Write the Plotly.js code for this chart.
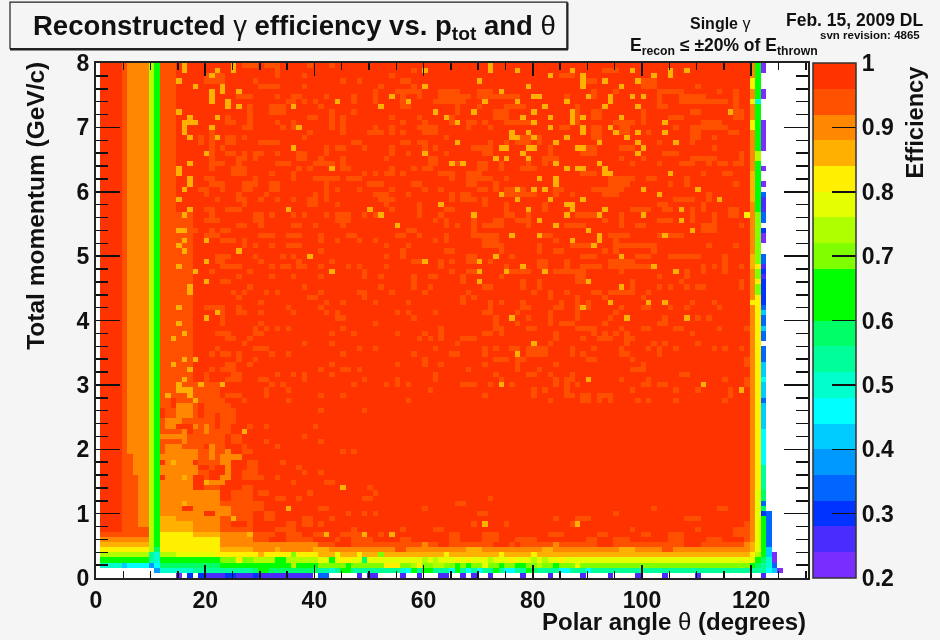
<!DOCTYPE html>
<html><head><meta charset="utf-8">
<script src="https://cdn.plot.ly/plotly-3.0.1.min.js"></script>
<style>html,body{margin:0;padding:0;background:#f5f5f5}#chart{width:940px;height:640px;filter:blur(0.6px)}</style>
</head><body><div id="chart"></div>
<script>
// ---- bin layout of the histogram (1 degree x 0.08 GeV/c) ----
const thetaBins = 130, momentumBins = 100;
const thetaFirstCentre = 0.2, thetaStep = 1, momentumFirstCentre = 0.04, momentumStep = 0.08;

// ---- efficiency, by bands of bins ----
const colStarts = [1,5,6,10,11,12,15,18,23,29,41,61,119,120,121,122,123,124,125,126];
const rowStarts = [0,1,2,3,4,5,6,7,8,9,11,13,17,22,29,38,51,71,100];
const N = null;
const baseLevels = [
 [N,N,N,N,N,N,N,N,N,N,N,N,N,N,N,N,N,N,N],
 [N,N,N,N,.38,.48,.50,.54,.54,.56,.55,.55,.55,.54,.52,.52,.47,.42,.24],
 [.48,.42,.46,.38,.46,.58,.60,.58,.64,.66,.68,.68,.68,.66,.60,.54,.50,.36,N],
 [.62,.64,.64,.54,.50,.66,.66,.66,.70,.74,.78,.78,.78,.76,.66,.60,.50,.24,N],
 [.72,.72,.72,.54,.50,.72,.76,.76,.80,.83,.85,.85,.85,.80,.74,.62,.42,.24,N],
 [.82,.82,.82,.72,.58,.80,.82,.80,.86,.89,.90,.90,.90,.86,.76,.66,.42,N,N],
 [.86,.86,.86,.74,.66,.82,.83,.84,.90,.92,.94,.94,.92,.88,.78,.66,.32,N,N],
 [.90,.90,.90,.74,.66,.82,.84,.84,.91,.98,.98,.98,.93,.89,.78,.66,.32,N,N],
 [.94,.94,.94,.74,.66,.83,.84,.86,.91,.98,.98,.98,.94,.89,.78,.66,.32,N,N],
 [.98,.94,.94,.74,.66,.85,.87,.89,.94,.98,.98,.98,.94,.90,.78,.66,.32,N,N],
 [.98,.94,.94,.74,.66,.87,.89,.90,.94,.98,.98,.98,.98,.90,.78,.66,.32,N,N],
 [.98,.94,.94,.74,.66,.90,.91,.92,.94,.98,.98,.98,.98,.90,.78,.60,N,N,N],
 [.98,.94,.94,.74,.66,.90,.91,.94,.98,.98,.98,.98,.98,.90,.80,.54,N,N,N],
 [.98,.94,.94,.74,.66,.94,.94,.94,.98,.98,.98,.98,.98,.90,.82,.46,N,N,N],
 [.98,.94,.90,.74,.66,.94,.94,.94,.98,.98,.98,.98,.98,.90,.82,.42,N,N,N],
 [.98,.94,.90,.74,.66,.94,.94,.98,.98,.98,.98,.98,.98,.90,.80,.32,N,N,N],
 [.98,.94,.90,.74,.66,.94,.94,.98,.98,.98,.98,.98,.98,.90,.68,N,N,N,N],
 [.98,.94,.90,.74,.66,.94,.96,.98,.98,.98,.98,.98,.98,.90,.66,N,N,N,N]
];

// cells of the second band (0.92-0.96) in the red field: [thetaBin0, thetaBin1, rowBin0, rowBin1]
const midBlocks = [
[27,29,99,99],[31,32,99,99],[33,33,97,99],[39,39,99,99],[43,43,99,99],[20,23,96,97],[29,29,96,96],[30,33,95,95],[38,38,95,95],[38,38,97,97],[45,45,96,96],
[26,28,93,93],[33,33,93,93],[36,37,93,93],[42,42,93,93],[47,47,92,93],[35,36,92,92],[38,38,92,92],[40,40,92,92],[28,28,88,91],[32,34,90,91],[41,41,91,91],
[39,40,89,89],[43,43,88,90],[45,45,88,89],[47,47,90,90],[24,25,88,88],[24,24,89,89],[33,33,88,88],[36,36,87,88],[43,43,87,87],[45,45,86,87],[34,34,87,87],
[27,28,87,87],[39,39,86,86],[30,32,84,84],[33,33,84,84],[38,38,85,85],[47,48,84,84],[42,42,82,83],[44,45,83,83],[21,21,79,87],[19,19,84,85],[23,23,83,83],
[24,25,84,85],[27,27,85,85],[24,25,82,82],[27,27,81,82],[29,30,82,82],[29,29,81,81],[33,33,82,82],[37,38,81,82],[33,35,80,80],[40,43,80,80],[41,41,81,81],
[45,45,80,81],[45,46,79,79],[25,27,78,79],[26,26,80,81],[22,23,80,80],[27,27,79,79],[32,32,78,78],[36,36,77,78],[37,37,79,79],[39,39,79,79],[40,43,77,77],
[42,42,74,76],[44,44,75,75],[46,48,77,77],[44,44,77,77],[48,48,75,75],[20,21,77,77],[19,20,75,75],[21,23,76,76],[23,23,75,75],[27,29,76,76],[27,28,75,75],
[29,29,77,77],[32,33,75,76],[31,31,74,74],[26,26,73,74],[20,20,74,74],[22,22,73,73],[27,27,72,73],[30,30,73,73],[33,33,73,73],[36,36,73,73],[39,40,72,73],
[42,42,73,73],[44,44,72,72],[40,40,74,74],[20,21,71,71],[24,26,71,71],[21,21,70,70],[29,30,69,70],[32,32,70,70],[38,38,70,70],[42,42,70,70],[44,46,69,70],
[20,22,69,69],[36,36,70,70],[26,27,68,68],[36,37,68,68],[30,30,68,68],[40,40,68,68],[45,45,68,68],[23,24,67,67],[18,18,67,67],[21,21,67,67],
[54,54,97,97],[56,57,96,96],[52,52,95,95],[58,58,95,95],[58,58,98,98],[48,48,96,96],[55,59,94,94],[56,56,92,93],[51,51,92,94],[59,59,93,93],[63,66,93,94],
[62,67,92,92],[67,68,93,93],[70,72,93,94],[73,77,93,93],[75,78,91,91],[70,70,91,91],[66,66,90,91],[56,57,91,91],[54,54,89,89],[56,56,88,88],[59,59,89,89],
[60,60,88,88],[59,62,87,87],[60,62,86,86],[73,75,89,90],[75,79,88,88],[71,71,88,88],[68,69,88,88],[72,72,87,87],[65,65,88,89],[68,68,87,87],[50,52,86,86],
[51,51,87,87],[54,54,86,87],[56,56,86,86],[56,57,84,84],[59,59,84,84],[60,60,82,84],[62,62,83,83],[64,64,85,85],[64,64,82,82],[69,71,83,83],[71,71,82,82],
[72,72,82,84],[77,79,84,85],[75,75,84,84],[81,81,84,85],[83,83,82,83],[54,54,82,83],[49,49,83,83],[57,57,82,82],[53,53,81,81],[58,58,79,79],[61,62,80,81],
[60,61,79,79],[54,54,78,79],[56,56,78,78],[51,51,78,78],[53,53,78,78],[49,49,78,78],[63,65,78,78],[65,65,77,77],[68,70,77,78],[66,67,80,80],[70,71,79,80],
[74,74,79,80],[78,80,79,79],[79,79,80,80],[82,84,81,81],[82,82,80,80],[71,72,77,77],[75,75,77,77],[68,69,76,76],[70,71,75,75],[73,73,75,76],[75,78,74,75],
[79,80,74,74],[84,84,74,75],[50,52,76,76],[58,59,76,76],[54,54,75,75],[60,60,75,75],[63,63,75,75],[51,53,74,74],[52,54,73,73],[57,57,74,74],[53,53,72,72],
[59,59,70,72],[65,65,73,74],[67,68,73,74],[64,65,71,71],[71,71,72,73],[75,75,71,72],[69,69,73,73],[63,63,70,70],[49,49,70,70],[51,51,70,70],[54,54,71,71],
[77,79,69,69],[79,79,68,70],[82,82,71,72],[73,74,68,69],[69,69,67,69],[71,74,68,68],[64,64,68,69],[62,62,69,69],[66,66,68,68],[57,58,67,67],[75,76,70,70],
[93,95,98,98],[85,87,97,97],[89,91,96,96],[86,86,93,93],[91,91,93,94],[95,95,94,94],[100,102,95,96],[103,107,94,94],[107,111,92,93],[114,114,94,94],[117,117,91,94],
[112,115,92,92],[110,110,95,95],[103,103,92,93],[103,104,91,91],[88,88,88,91],[91,92,89,90],[95,95,88,88],[96,98,88,88],[100,100,88,90],[105,107,89,89],[109,110,90,90],
[111,114,87,88],[115,115,87,87],[117,118,89,90],[85,86,87,87],[91,92,85,87],[96,97,86,87],[101,101,86,86],[106,106,87,87],[109,110,85,87],[116,117,86,86],[113,113,85,85],
[89,91,82,83],[96,97,83,83],[98,98,83,83],[103,103,84,84],[109,109,84,84],[113,113,83,83],[109,113,81,81],[118,118,81,82],[114,115,80,80],[104,106,82,82],[100,100,81,81],
[96,96,81,81],[98,98,80,80],[103,103,80,80],[107,109,80,80],[112,112,80,80],[117,118,80,80],[89,91,78,78],[94,97,76,77],[98,98,77,77],[101,102,77,77],[111,111,78,78],
[108,108,76,77],[105,105,76,76],[115,116,78,78],[85,85,75,75],[117,117,76,76],[91,96,75,75],[93,95,74,74],[87,87,74,74],[106,109,73,73],[112,112,73,74],[103,104,72,72],
[98,101,71,71],[104,105,71,71],[111,111,71,72],[116,117,70,71],[109,109,69,71],[113,113,69,70],[88,91,70,70],[96,96,68,70],[103,105,69,69],[86,89,68,68],[93,93,69,69],
[99,100,68,68],[111,113,67,68],[118,118,68,68],
[20,22,66,66],[30,32,66,66],[35,37,66,66],[41,41,65,66],[46,47,66,66],[55,56,66,66],[59,59,66,66],[64,64,65,66],[23,25,65,65],[27,27,64,65],[44,44,65,65],[48,48,65,65],
[51,51,65,65],[62,62,65,65],[29,29,64,64],[32,32,64,64],[35,35,64,64],[36,37,64,64],[53,53,64,64],[57,57,64,64],[64,65,63,63],[41,41,63,63],[22,23,61,62],[24,24,62,62],
[29,29,62,62],[34,34,62,62],[36,36,62,62],[53,53,62,62],[56,56,62,63],[30,30,61,61],[43,43,61,61],[58,59,61,61],[63,63,60,61],[65,65,61,61],[37,37,60,61],[23,25,60,60],
[26,26,60,60],[32,32,60,60],[34,34,60,60],[35,35,60,60],[38,38,60,60],[41,41,60,60],[46,46,60,60],[48,48,60,60],[53,53,60,60],[21,21,59,59],[28,28,59,59],[49,49,58,59],
[65,65,59,59],[26,26,58,58],[32,32,58,58],[36,36,58,58],[41,41,58,58],[52,52,58,58],[61,62,58,58],[23,24,57,57],[58,58,56,58],[28,28,56,56],[38,38,56,56],[52,52,56,56],
[61,61,56,56],[25,25,55,55],[27,27,55,55],[31,31,55,55],[33,33,55,55],[41,41,55,55],[48,49,55,55],[54,54,55,55],[60,60,55,55],[26,26,54,54],[39,40,54,54],[49,49,54,54],
[30,30,53,53],[42,42,53,53],[45,45,53,53],[51,51,53,53],[57,57,53,53],[26,26,52,52],[35,35,52,52],[41,41,52,52],[22,23,51,52],[20,21,52,52],[26,27,51,51],[30,30,51,51],
[36,36,51,51],[42,42,51,51],[44,44,50,51],[55,55,51,51],[57,57,51,51],[62,62,51,51],[45,45,50,50],[58,58,50,50],[23,23,49,50],[30,30,49,49],[51,51,49,49],[29,29,48,48],
[31,31,48,48],[33,33,48,48],[35,35,48,48],[45,45,48,48],[63,63,46,48],[22,24,47,47],[29,30,47,47],[43,43,47,47],[47,47,47,47],[55,55,47,47],[60,60,47,47],[24,25,46,46],
[59,59,46,46],[61,61,46,46],[28,28,46,46],[27,27,45,45],[38,38,45,45],[43,43,45,45],[66,66,45,45],[29,31,44,44],[48,48,44,44],[51,51,44,44],[62,62,44,44],[22,22,44,44],
[21,21,43,43],[23,24,43,43],[26,26,42,43],[32,32,43,43],[35,35,43,43],[45,45,43,43],[58,58,43,43],[65,66,43,43],[29,29,42,42],[60,60,41,42],[28,28,41,41],[24,25,41,41],
[43,43,41,41],[55,55,41,41],[63,63,41,41],[23,25,40,40],[21,21,40,40],[41,41,40,40],[45,46,40,40],[48,48,40,40],[25,26,39,39],[33,33,39,39],[36,36,39,39],[38,38,38,39],
[43,43,39,39],[62,62,38,39],[20,20,37,39],[24,26,38,38],[30,31,38,38],[49,49,38,38],[55,55,37,38],[32,32,37,37],[34,34,37,37],[47,47,37,37],[53,53,37,37],[57,57,37,37],
[20,22,36,36],[35,35,36,36],[31,31,35,36],[61,61,36,36],[24,25,35,35],[26,26,35,35],[41,41,35,35],[45,45,35,35],[21,23,34,34],[27,27,34,34],[35,35,34,34],[57,57,34,34],
[69,73,66,66],[71,73,64,65],[82,83,66,66],[94,97,66,66],[103,107,66,66],[84,84,65,65],[74,74,63,64],[81,81,63,64],[84,85,63,63],[87,91,64,64],[95,102,64,64],[95,95,63,65],
[99,101,62,62],[102,102,63,63],[105,107,62,62],[108,110,62,62],[89,91,62,62],[93,93,63,63],[112,112,64,64],[117,117,64,64],[68,69,61,62],[76,76,62,62],[81,82,60,61],[72,72,61,61],
[86,86,60,61],[94,98,60,61],[89,92,60,60],[99,101,60,60],[111,111,59,60],[115,115,59,62],[118,118,60,60],[113,113,60,60],[75,75,60,60],[76,78,59,59],[79,79,59,59],[84,89,59,59],
[68,68,59,59],[69,69,59,59],[96,96,59,59],[108,108,58,59],[74,74,58,58],[88,89,57,58],[67,67,57,58],[103,103,58,58],[81,81,56,57],[78,78,56,57],[71,72,56,56],[98,98,56,57],
[107,107,57,57],[118,118,56,57],[103,103,56,56],[105,105,56,56],[110,111,56,56],[108,108,56,56],[68,68,55,55],[80,80,55,55],[83,83,54,55],[86,86,55,55],[91,92,55,55],[94,98,55,55],
[101,101,55,55],[93,93,54,54],[88,88,50,54],[100,100,54,54],[67,67,53,54],[69,69,54,54],[72,72,51,53],[74,74,53,53],[78,78,52,53],[85,85,53,53],[90,90,52,53],[109,109,53,53],
[113,113,53,53],[79,79,52,52],[84,85,52,52],[96,96,52,52],[100,101,52,52],[105,105,52,52],[108,108,52,52],[114,114,52,52],[71,72,51,51],[77,77,51,51],[83,83,49,51],[95,95,51,51],
[73,73,49,50],[79,79,50,50],[94,94,50,50],[77,77,49,49],[85,87,49,49],[104,104,49,50],[112,112,50,50],[110,110,50,50],[103,103,49,49],[93,93,49,49],[73,74,48,48],[79,80,48,48],
[88,91,48,48],[96,96,48,48],[100,101,48,48],[106,107,48,48],[114,114,48,48],[119,119,48,48],[74,74,47,47],[71,72,47,47],[84,84,46,47],[91,91,47,47],[93,93,46,47],[95,95,47,47],
[97,97,45,47],[109,109,47,47],[67,68,46,46],[69,69,46,46],[92,94,46,46],[89,89,46,46],[98,98,46,46],[83,83,45,45],[102,102,45,45],[104,104,45,45],[110,110,45,45],[71,71,43,44],
[73,73,44,44],[76,77,44,44],[79,82,43,44],[87,87,43,44],[91,91,44,44],[96,96,43,44],[101,101,44,44],[103,103,43,44],[106,106,44,44],[113,113,44,44],[115,115,44,44],[118,118,44,44],
[97,97,43,43],[89,89,43,43],[73,75,42,42],[77,78,42,42],[90,91,42,42],[98,98,42,42],[119,119,41,42],[71,71,41,41],[77,77,40,41],[84,84,41,41],[68,68,40,40],[81,81,40,40],
[98,100,40,40],[100,100,41,41],[79,80,39,39],[73,73,39,39],[83,83,39,39],[87,87,39,39],[107,108,39,39],[74,74,38,38],[84,84,37,38],[86,87,38,38],[96,96,38,38],[101,101,37,38],
[115,115,38,38],[119,119,37,38],[67,69,37,37],[72,72,37,37],[76,76,37,37],[88,88,37,37],[86,86,36,37],[100,101,37,37],[103,104,37,37],[80,80,35,36],[82,82,36,36],[86,87,35,35],
[89,90,34,35],[92,94,35,35],[98,98,36,36],[106,106,36,36],[110,110,36,36],[116,116,35,36],[71,71,35,35],[83,83,34,34],[92,92,34,34],[94,94,34,34],[99,99,34,34],[101,101,34,34],[106,106,34,34],[115,115,34,34],
[41,41,32,32],[49,49,32,32],[28,28,29,29],[31,31,29,29],[40,40,29,29],[31,31,26,26],[33,33,25,25],[41,41,26,26],[38,38,27,27],[45,45,24,24],[47,47,24,24],[34,34,22,22],[37,37,21,21],
[30,30,19,19],[33,33,19,19],[38,38,20,20],[41,41,20,20],[43,43,18,18],[42,42,18,18],[36,36,18,18],[50,50,17,17],[51,51,16,16],[49,50,15,15],[33,34,15,15],[30,31,16,16],[37,37,15,15],
[41,42,13,13],[39,39,16,16],[51,51,12,12],[43,43,11,11],[46,46,12,12],[49,49,12,12],[60,60,13,13],[66,67,14,14],[72,72,15,15],[70,71,12,12],[84,84,11,11],[88,90,11,11],[95,95,12,12],[102,102,13,13],[108,110,11,11],[114,115,13,13],
[23,23,24,33],[24,24,28,33],[25,25,30,32],[27,27,24,25],[28,28,24,24],[26,27,19,20],[23,25,12,16],[25,26,26,27],[28,29,19,22],[27,28,14,17],[26,26,12,13],[29,30,13,14],[31,32,11,12],[35,36,9,10],[38,39,10,11],
[29,31,7,7],[35,39,7,7],[44,44,7,7],[47,50,7,7],[29,32,8,8],[35,37,8,8],[40,42,8,8],[45,48,8,8],[33,34,9,9],[41,41,10,10],[47,47,9,9],[52,52,8,8],[56,57,7,7],[65,66,7,8],[71,73,7,8],[77,78,7,7],[79,80,7,7],[90,91,7,7],
[56,56,9,9],[62,63,9,9],[69,69,10,10],[71,71,10,10],[75,75,10,10],[87,87,10,10],[88,88,10,10],[95,97,7,7],[100,101,8,8],[105,107,7,8],[112,114,7,7],[110,110,9,9],[98,98,9,9],[117,118,8,9],[83,85,8,8],[92,93,8,8]
];

// patches of the low-momentum forward region: [thetaBin0, thetaBin1, rowBin0, rowBin1, efficiency]
const lowFieldBlocks = [
[12,14,12,23,.90],[15,18,20,24,.90],[15,17,12,19,.90],[18,19,13,16,.90],[21,21,23,25,.90],[24,24,24,24,.90],[23,26,22,23,.90],[24,24,19,21,.90],[23,23,19,19,.90],[20,23,18,18,.90],[22,24,12,13,.90],
[15,17,31,33,.90],[13,15,29,30,.90],[18,18,29,29,.90],[20,20,28,29,.90],[16,16,26,28,.90],[15,15,27,27,.90],[12,14,27,27,.90],[13,15,24,25,.90],[20,22,10,11,.90],
[8,9,13,28,.90],[7,7,20,28,.90],[6,6,24,28,.90],[8,9,10,12,.90],
[12,12,31,32,.98],[12,12,22,22,.98],[12,12,19,19,.98],[18,19,18,19,.98],[18,18,17,17,.98],[19,19,17,17,.98],[16,17,13,13,.98],[20,21,12,12,.98],[23,24,15,16,.98],[20,20,25,25,.98],[25,26,18,22,.98],
[18,18,22,22,.98],[26,26,24,24,.98],[24,24,15,17,.98],[25,27,10,10,.98],[22,22,21,21,.98],[17,17,28,29,.98],[19,19,31,33,.98],[14,14,33,34,.98],[22,22,29,31,.98],[19,20,21,21,.98],[21,22,19,20,.98],[15,16,29,29,.98],
[63,64,6,6,.98],[73,75,6,6,.98],[77,77,6,6,.98],[44,46,6,6,.98],[92,94,6,6,.98],[108,110,6,6,.98],[60,60,6,6,.90],[36,37,6,6,.90],[84,84,6,6,.90],
[55,56,5,5,.93],[68,70,5,5,.86],[82,83,5,5,.86],[40,42,5,5,.86],[96,98,5,5,.86],[104,105,5,5,.93]
];

// brightest cells (0.84-0.88) of the field: [thetaBin, rowBin]
const amberCells = [
[16,99],[16,98],[15,96],[18,95],[21,97],[22,98],[25,98],[25,99],[23,95],[23,94],[21,94],[21,93],[21,92],[24,92],[24,91],[26,91],[26,94],[15,90],[17,89],[16,88],[17,88],[18,88],[16,87],[16,86],[22,89],[21,87],[22,85],[17,85],
[36,91],[37,87],[36,83],[44,92],[43,79],[20,82],[17,80],[15,79],[15,78],[17,77],[17,76],[16,75],[15,73],[17,71],[16,70],[35,71],[15,67],[16,67],
[60,98],[72,98],[72,99],[83,97],[60,95],[70,96],[79,95],[54,93],[57,92],[52,91],[71,92],[77,92],[80,93],[81,93],[74,94],[77,98],[62,90],[64,89],[69,90],[80,90],[78,89],[82,91],[83,89],[66,88],[83,87],[80,88],[76,86],[76,85],[77,85],[79,86],[80,85],[84,84],[66,84],[60,82],[74,83],[75,83],[79,83],[80,83],[78,82],[73,81],[75,81],[79,81],[65,80],[67,80],[84,80],[81,77],[84,77],[84,76],[77,75],[80,75],[82,75],[74,74],[77,73],[83,73],[63,72],[50,71],[79,71],[69,70],[52,70],[81,69],[55,68],[84,68],
[87,98],[89,97],[89,96],[89,95],[98,98],[102,97],[105,97],[105,98],[108,98],[96,95],[99,96],[93,96],[90,93],[94,93],[94,92],[93,91],[98,93],[100,93],[99,91],[86,92],[87,90],[87,89],[96,89],[89,89],[87,88],[116,90],[104,88],[89,86],[89,87],[94,87],[95,86],[99,86],[104,86],[86,85],[97,85],[99,84],[106,84],[92,84],[100,83],[88,83],[89,83],[99,82],[92,80],[93,79],[93,78],[94,78],[86,79],[88,79],[89,79],[105,78],[100,75],[110,75],[103,74],[114,73],[89,73],[86,72],[87,72],[87,71],[93,71],[107,71],[92,70],[100,70],[86,70],[107,69],[90,67],[109,67],
[16,65],[20,65],[15,64],[16,63],[26,63],[39,62],[20,61],[60,61],[15,60],[18,59],[43,59],[20,57],[17,56],[17,55],[15,52],[22,51],[20,50],[15,49],[16,47],[14,46],[16,42],[18,42],[14,41],[17,40],[16,38],[19,37],[23,37],[15,37],[15,36],[16,36],[17,36],[17,35],[13,35],[18,34],
[76,66],[81,66],[87,65],[92,66],[92,65],[104,66],[91,64],[96,62],[73,62],[70,61],[78,60],[102,60],[70,59],[75,59],[82,59],[106,59],[70,57],[90,57],[96,56],[94,53],[101,53],[104,53],[89,52],[76,50],[97,50],[108,50],[80,45],[77,43],[90,38],[74,37],[111,37],[118,36],
[45,17],[35,13],[27,28],[33,5],[42,8],[49,8],[16,19],[20,18],[16,14],[14,22],[28,8],[25,11],[71,10],[88,10],[54,8]
];

// edge columns of the acceptance: [thetaBin, rowBin0, rowBin1, efficiency]
const edgeBlocks = [
[122,98,99,.24],[122,93,94,.24],[122,86,88,.24],[122,83,85,.24],[122,79,79,.24],[122,76,76,.24],[122,74,74,.32],[122,71,73,.26],[122,69,70,.32],[122,67,67,.28],[122,65,66,.24],
[122,61,62,.32],[122,60,60,.26],[122,59,59,.31],[122,58,58,.26],[122,53,57,.31],[122,52,52,.33],[122,51,51,.42],[122,49,50,.33],[122,48,48,.40],[122,46,47,.33],[122,45,45,null],[122,43,44,.33],[122,42,42,.36],[122,39,41,.41],[122,38,38,.47],[122,36,37,.42],[122,35,35,.41],[122,34,34,.36],
[120,95,96,.82],[120,92,92,.82],[121,92,92,.50],[120,87,88,.82],[121,81,82,.74],[120,73,78,.86],[119,70,70,.82],[120,60,62,.86],[120,53,53,.82],[121,51,54,.80],[121,60,60,.80],[121,57,57,.80],[122,14,14,.32],[122,12,12,.31]
];
// purple and blue bins along the lowest momentum row: [thetaBin, efficiency]
const bottomRow = [[15,.24],[17,.30],[19,.30],[20,.25],[21,.25],[22,.25],[23,.26],[24,.30],[25,.30],[26,.25],[27,.25],[28,.25],[29,.30],[30,.25],[31,.25],[32,.25],[33,.25],[34,.25],[35,.25],[36,.25],[37,.25],[38,.25],[39,.25],[41,.32],[42,.32],[48,.25],[50,.25],[51,.25],[56,.25],[59,.25],[63,.25],[64,.25],[67,.25],[69,.25],[72,.25],[78,.25],[83,.25],[89,.25],[94,.25],[99,.25],[104,.25],[110,.25],[122,.25]];
// scattered values in rows 1-4: [thetaBin, rowBin, efficiency]
const lowRowCells = [
[56,1,.50],[57,1,.47],[58,1,.62],[60,1,.66],[61,1,.66],[65,1,.47],[66,1,.66],[68,1,.46],[70,1,.47],[73,1,.62],[75,1,.47],[76,1,.47],[79,1,.66],[80,1,.58],[85,1,.47],[86,1,.47],[90,1,.47],
[53,2,.82],[54,2,.80],[55,2,.80],[58,2,.72],[59,2,.80],[62,2,.74],[63,2,.72],[66,2,.62],[68,2,.62],[71,2,.76],[74,2,.66],[77,2,.62],[78,2,.64],[81,2,.74],[82,2,.70],[84,2,.66],[88,2,.78],
[60,3,.72],[62,3,.72],[66,3,.84],[68,3,.83],[72,3,.72],[76,3,.82],[80,3,.74],[82,3,.72],[85,3,.84],
[22,4,.84],[30,4,.86],[36,4,.70],[38,4,.84],[44,4,.76],[48,4,.84],[52,4,.70],[58,4,.88],[64,4,.82],[70,4,.88],[74,4,.84],[80,4,.82],
[26,3,.82],[33,3,.62],[34,3,.62],[43,3,.62],[45,3,.82],[46,3,.82],[49,3,.60],[36,2,.74],[38,2,.62],[40,2,.62],[46,2,.66],[30,1,.66],[31,1,.66],[43,1,.48],[45,1,.62],[46,1,.66],[48,1,.52]
];
const zLow = 0.2, zHigh = 1;
const paletteColours = ['#7a2dff','#4a2cff','#0033ff','#0066ff','#0099ff','#00ccff','#00ffff','#00ffcc','#00ff99','#00ff66','#00ff00','#00ff00','#80ff00','#b0ff00','#e6ff00','#fff000','#ffb000','#ff8800','#ff5000','#ff3300'];

// ---- assemble the matrix ----
const z = [];
for (let r = 0; r < rowStarts.length - 1; r++) {
  for (let j = rowStarts[r]; j < rowStarts[r + 1]; j++) {
    const row = new Array(thetaBins).fill(null);
    for (let c = 0; c < colStarts.length - 1; c++) {
      for (let k = colStarts[c]; k < colStarts[c + 1]; k++) row[k] = baseLevels[r][c];
    }
    z[j] = row;
  }
}
midBlocks.forEach(([a, b, c, d]) => { for (let j = c; j <= d; j++) for (let k = a; k <= b; k++) if (z[j][k] !== null && z[j][k] > .92) z[j][k] = .94; });
lowFieldBlocks.forEach(([a, b, c, d, v]) => { for (let j = c; j <= d; j++) for (let k = a; k <= b; k++) z[j][k] = v; });
amberCells.forEach(([k, j]) => { z[j][k] = .86; });
edgeBlocks.forEach(([k, a, b, v]) => { for (let j = a; j <= b; j++) z[j][k] = v; });
bottomRow.forEach(([k, v]) => { z[0][k] = v; });
lowRowCells.forEach(([k, j, v]) => { z[j][k] = v; });

const colorscale = [];
paletteColours.forEach((c, i) => { colorscale.push([i / 20, c]); colorscale.push([(i + 1) / 20, c]); });

// page pixel -> paper helpers for the text and the title box
const L = 96, R = 808, T = 62.5, B = 578;
const px = x => (x - L) / (R - L), py = y => (B - y) / (B - T);
const F = 'Liberation Sans, Arial, sans-serif', INK = '#111';
const note = (text, x, y, size, o) => Object.assign({xref:'paper', yref:'paper', x:px(x), y:py(y), text, showarrow:false,
  xanchor:'center', yanchor:'middle', font:{family:F, size, color:INK, weight:700}}, o || {});

const axisCommon = {showgrid:false, zeroline:false, showline:true, linecolor:'#222', linewidth:2, mirror:'allticks',
  ticks:'inside', tickcolor:'#111', tickwidth:1.5, tickfont:{family:F, size:23, color:INK, weight:700}};

Plotly.newPlot('chart', [{
  type:'heatmap', z, x0:thetaFirstCentre, dx:thetaStep, y0:momentumFirstCentre, dy:momentumStep,
  zmin:zLow, zmax:zHigh, zsmooth:false, colorscale, hoverongaps:false,
  colorbar:{x:px(813), xanchor:'left', xpad:0, ypad:0, y:0.5, yanchor:'middle', len:1, lenmode:'fraction',
    thickness:43, thicknessmode:'pixels', outlinewidth:1.5, outlinecolor:'#333', borderwidth:0,
    tick0:0.2, dtick:0.1, ticks:'inside', ticklen:24, tickwidth:1.5, tickcolor:'#111', ticklabelposition:'outside',
    tickfont:{family:F, size:23, color:INK, weight:700}}
}], {
  width:940, height:640, paper_bgcolor:'#f5f5f5', plot_bgcolor:'#ffffff',
  margin:{l:L, r:940-R, t:T, b:640-B, pad:0, autoexpand:false},
  title:{text:'Reconstructed <span style="font-weight:400">γ</span> efficiency vs. p<sub>tot</sub> and <span style="font-weight:400">θ</span>',
    x:33/940, xanchor:'left', y:1-25/640, yanchor:'middle', font:{family:F, size:27.5, color:INK, weight:700}},
  xaxis:Object.assign({}, axisCommon, {range:[0,130.4], tick0:0, dtick:20, ticklen:13, ticklabelstandoff:0,
    minor:{dtick:5, ticks:'inside', ticklen:7, tickwidth:1.5, tickcolor:'#111', showgrid:false}}),
  yaxis:Object.assign({}, axisCommon, {range:[0,8], tick0:0, dtick:1, ticklen:24,
    minor:{dtick:0.2, ticks:'inside', ticklen:12, tickwidth:1.5, tickcolor:'#111', showgrid:false}}),
  shapes:[
    {type:'rect', xref:'paper', yref:'paper', x0:px(10), x1:px(567), y0:py(48), y1:py(1.5), line:{color:'#222', width:1.2}, fillcolor:'#f5f5f5', layer:'above'},
    {type:'line', xref:'paper', yref:'paper', x0:px(10), x1:px(568), y0:py(49), y1:py(49), line:{color:'#222', width:2}, layer:'above'},
    {type:'line', xref:'paper', yref:'paper', x0:px(567.5), x1:px(567.5), y0:py(49), y1:py(2), line:{color:'#222', width:2}, layer:'above'}
  ],
  annotations:[
    note('Single <span style="font-weight:400">γ</span>', 720, 23, 16),
    note('E<sub>recon</sub> ≤ ±20% of E<sub>thrown</sub>', 724, 46, 17.5),
    note('Feb. 15, 2009 DL', 854.5, 19, 17.5),
    note('svn revision: 4865', 870.5, 34, 11.5),
    note('Efficiency', 915, 121, 23.7, {textangle:-90}),
    note('Total momentum (GeV/c)', 35.5, 206, 24.5, {textangle:-90}),
    note('Polar angle <span style="font-weight:400">θ</span> (degrees)', 674, 622, 24)
  ]
}, {displayModeBar:false, staticPlot:true});
</script></body></html>
